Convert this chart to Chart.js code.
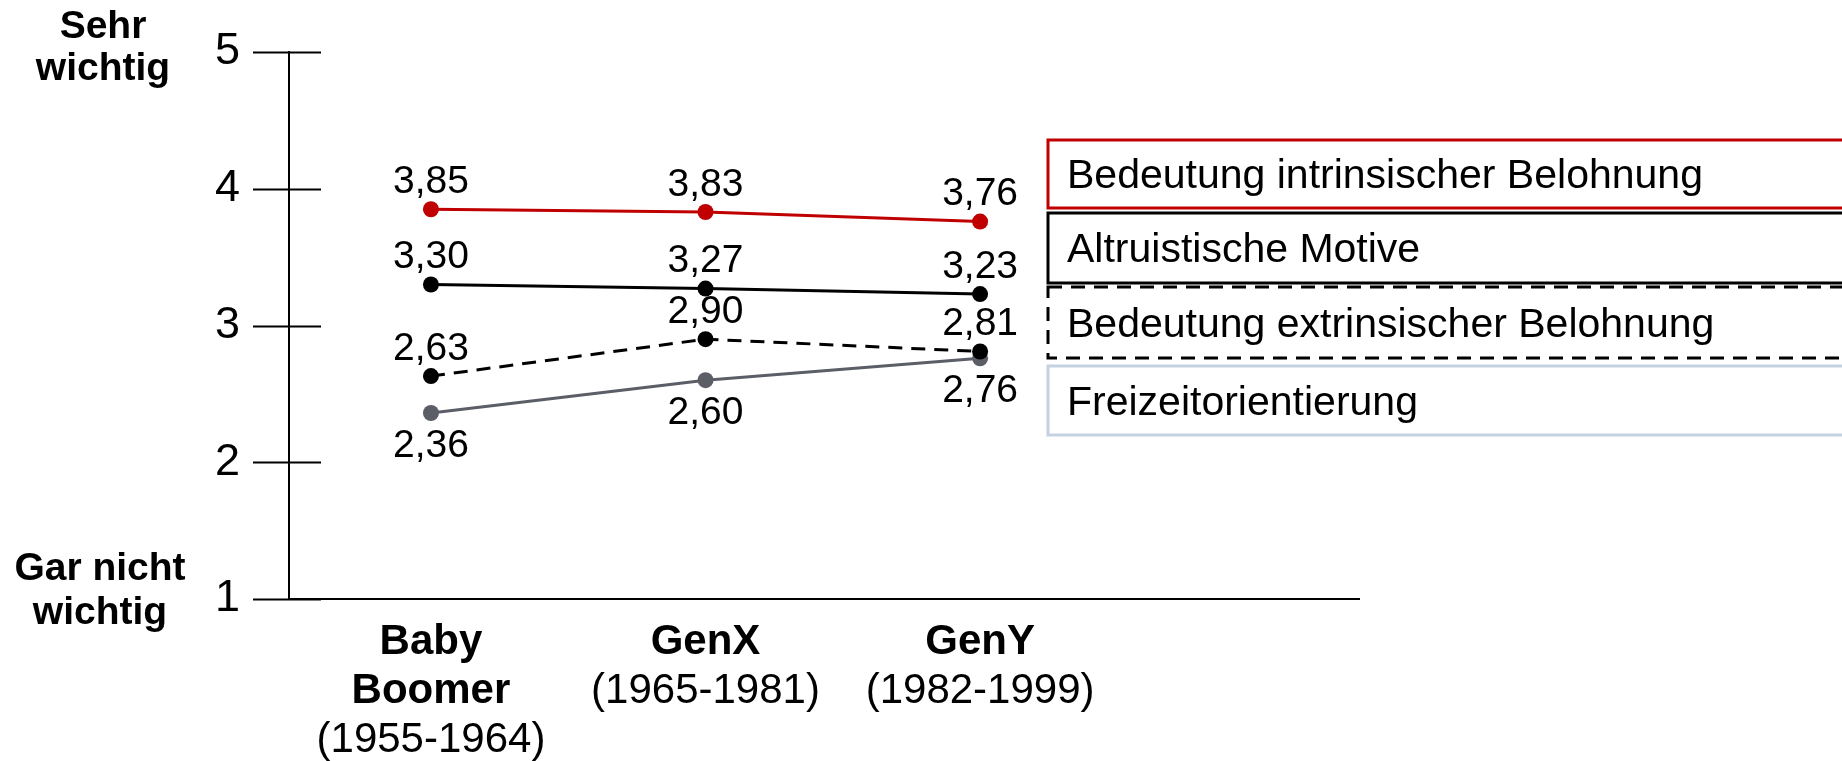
<!DOCTYPE html>
<html>
<head>
<meta charset="utf-8">
<script src="https://cdn.jsdelivr.net/npm/chart.js@4"></script>
<style>
  body { margin: 0; background: #fff; }
  #wrap { width: 1842px; height: 761px; }
</style>
</head>
<body>
<div id="wrap"><canvas id="graficoGenerationen"></canvas></div>
<script>
  const generationen = [['Baby', 'Boomer'], ['GenX'], ['GenY']];
  const jahrgaenge = ['(1955-1964)', '(1965-1981)', '(1982-1999)'];
  const yTicks = [1, 2, 3, 4, 5];
  const serien = ['Bedeutung intrinsischer Belohnung', 'Altruistische Motive', 'Bedeutung extrinsischer Belohnung', 'Freizeitorientierung'];
  const intrinsisch = [3.85, 3.83, 3.76];
  const altruistisch = [3.30, 3.27, 3.23];
  const extrinsisch = [2.63, 2.90, 2.81];
  const freizeit = [2.36, 2.60, 2.76];

  const FONT = "'Liberation Sans', Arial, sans-serif";

  const punkte = arr => arr.map((v, i) => ({ x: i, y: v }));

  // Beschriftungen, Legendenkästen und Tickstriche
  const zeichnen = {
    id: 'zeichnen',
    afterDraw(chart) {
      const c = chart.ctx;
      const xs = chart.scales.x;
      const ys = chart.scales.y;
      c.save();
      c.fillStyle = '#000';

      // Tickstriche quer über die Achse
      c.strokeStyle = '#000';
      c.lineWidth = 2;
      ys.ticks.forEach(t => {
        const y = Math.round(ys.getPixelForValue(t.value)) + 0.5;
        c.beginPath();
        c.moveTo(253, y);
        c.lineTo(321, y);
        c.stroke();
      });

      // Werte an den Punkten
      c.font = '39px ' + FONT;
      c.textAlign = 'center';
      c.textBaseline = 'middle';
      chart.data.datasets.forEach((ds, d) => {
        chart.getDatasetMeta(d).data.forEach((pt, i) => {
          const txt = ds.data[i].y.toFixed(2).replace('.', ',');
          const dy = ds.labelUnten ? 33 : -27;
          c.fillText(txt, pt.x, pt.y + dy);
        });
      });

      // Kategorien
      c.textBaseline = 'alphabetic';
      generationen.forEach((zeilen, i) => {
        const x = xs.getPixelForValue(i);
        c.font = 'bold 42px ' + FONT;
        zeilen.forEach((z, k) => c.fillText(z, x, 654 + k * 49));
        c.font = '42px ' + FONT;
        c.fillText(jahrgaenge[i], x, 654 + zeilen.length * 49);
      });

      // Skalenenden
      c.font = 'bold 39px ' + FONT;
      c.fillText('Sehr', 103, 38);
      c.fillText('wichtig', 103, 80);
      c.fillText('Gar nicht', 100, 580);
      c.fillText('wichtig', 100, 624);

      // Legende als Kästen
      const kaesten = [[140, 68], [213, 70], [287, 71], [366, 69]];
      c.font = '41px ' + FONT;
      c.textAlign = 'left';
      c.textBaseline = 'middle';
      chart.data.datasets.forEach((ds, d) => {
        const [top, h] = kaesten[d];
        c.strokeStyle = ds.legendFarbe || ds.borderColor;
        c.lineWidth = 3;
        c.setLineDash(ds.borderDash || []);
        c.strokeRect(1048, top, 820, h);
        c.setLineDash([]);
        c.fillText(ds.label, 1067, top + h / 2 + 3);
      });
      c.restore();
    }
  };

  new Chart(document.getElementById('graficoGenerationen'), {
    type: 'line',
    data: {
      datasets: [
        {
          label: serien[0], data: punkte(intrinsisch),
          borderColor: '#c00000', backgroundColor: '#c00000', pointBackgroundColor: '#c00000'
        },
        {
          label: serien[1], data: punkte(altruistisch),
          borderColor: '#000000', backgroundColor: '#000000', pointBackgroundColor: '#000000'
        },
        {
          label: serien[2], data: punkte(extrinsisch), borderDash: [14, 9],
          borderColor: '#000000', backgroundColor: '#000000', pointBackgroundColor: '#000000'
        },
        {
          label: serien[3], data: punkte(freizeit), labelUnten: true, legendFarbe: '#c3d1e0',
          borderColor: '#5b5e67', backgroundColor: '#5b5e67', pointBackgroundColor: '#5b5e67'
        }
      ]
    },
    options: {
      responsive: true,
      maintainAspectRatio: false,
      animation: false,
      events: [],
      elements: {
        line: { borderWidth: 3, tension: 0 },
        point: { radius: 8, borderWidth: 0 }
      },
      layout: { padding: { left: 0, top: 52, right: 483, bottom: 162 } },
      plugins: { legend: { display: false }, tooltip: { enabled: false } },
      scales: {
        x: {
          type: 'linear',
          min: -0.517,
          max: 3.38,
          grid: { display: false, drawTicks: false },
          ticks: { display: false },
          border: { color: '#000', width: 2 },
          afterFit: s => { s.height = 0; }
        },
        y: {
          min: 1,
          max: 5,
          afterBuildTicks: s => { s.ticks = yTicks.map(v => ({ value: v })); },
          grid: { display: false, drawTicks: false },
          border: { color: '#000', width: 2 },
          ticks: { color: '#000', padding: 49, font: { family: FONT, size: 45 } },
          afterFit: s => { s.width = 289; s.paddingTop = 0; s.paddingBottom = 0; }
        }
      }
    },
    plugins: [zeichnen]
  });
</script>
</body>
</html>
